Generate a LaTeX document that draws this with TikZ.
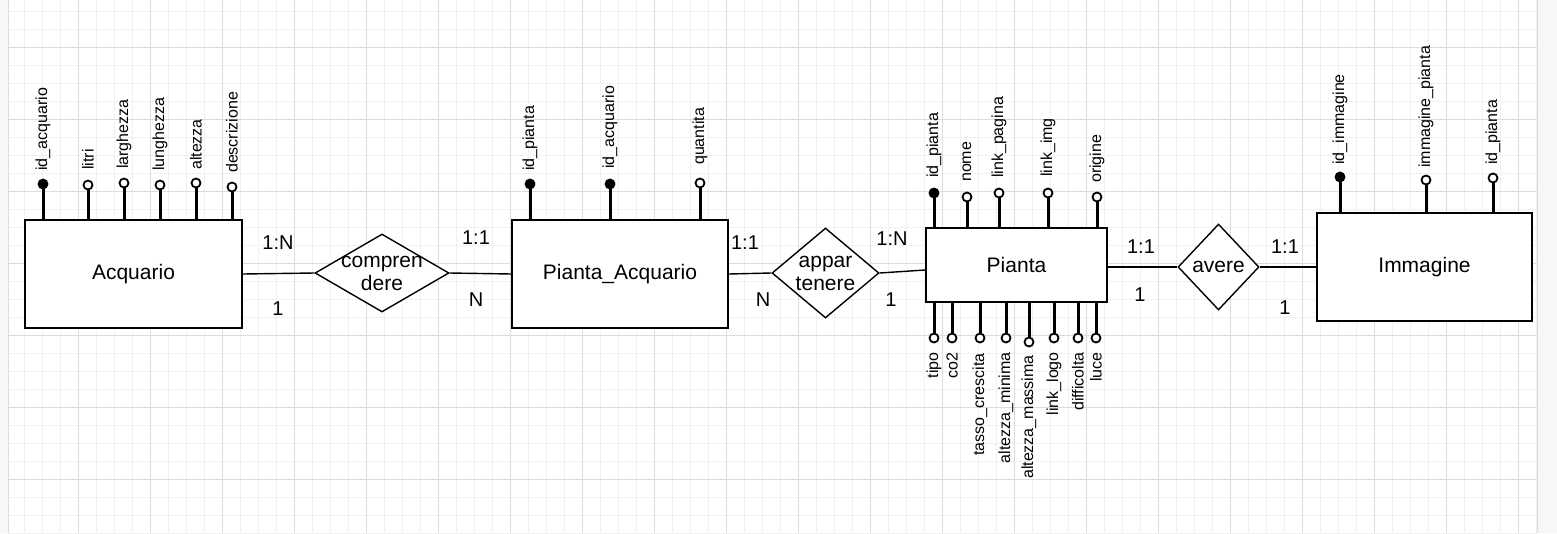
\documentclass[tikz,border=0pt]{standalone}
\usepackage{fontspec}
\setmainfont{Liberation Sans}
\usetikzlibrary{shapes.geometric}
\definecolor{gridmin}{HTML}{F1F1F1}
\definecolor{gridmaj}{HTML}{DCDCDC}
\definecolor{paper}{HTML}{F7F7F7}

\begin{document}
\begin{tikzpicture}[x=1pt, y=-1pt,
  ent/.style={draw, line width=1.6pt, fill=white, inner sep=0pt, font=\fontsize{21}{24}\selectfont},
  rel/.style={diamond, draw, line width=1.4pt, fill=white, inner sep=0pt},
  reltext/.style={align=center, inner sep=0pt, font=\fontsize{21}{23}\selectfont},
  stem/.style={line width=3pt},
  att/.style={circle, draw, line width=1.8pt, minimum size=9pt, inner sep=0pt},
  key/.style={att, fill=black},
  opt/.style={att, fill=white},
  lab/.style={rotate=90, inner sep=0pt, font=\fontsize{16}{19}\selectfont},
  card/.style={inner sep=0pt, font=\fontsize{20}{24}\selectfont},
  link/.style={line width=1.4pt}]
  \useasboundingbox (0,0) rectangle (1557,533);
  % sheet and grid
  \fill[paper] (0,0) rectangle (1557,533);
  \fill[white] (8,0) rectangle (1537,533);
  \foreach \gx in {24,42,...,1536} \draw[gridmin, line width=1pt] (\gx,0) -- (\gx,533);
  \foreach \gy in {11,29,...,533} \draw[gridmin, line width=1pt] (8,\gy) -- (1537,\gy);
  \foreach \gx in {78,150,...,1518} \draw[gridmaj, line width=1pt] (\gx,0) -- (\gx,533);
  \foreach \gy in {47,119,...,479} \draw[gridmaj, line width=1pt] (8,\gy) -- (1537,\gy);
  \draw[gridmaj, line width=1pt] (8,0) -- (8,533) (1537,0) -- (1537,533);

  % entities
  \node[ent, minimum width=217pt, minimum height=108pt] (acq) at (133.5,274) {Acquario};
  \node[ent, minimum width=216pt, minimum height=108pt] (pa) at (620,274) {Pianta\_Acquario};
  \node[ent, minimum width=181pt, minimum height=74pt] (pia) at (1016.5,265) {Pianta};
  \node[ent, minimum width=215pt, minimum height=108pt] (img) at (1424.5,267) {Immagine};

  % relationships
  \node[rel, minimum width=134pt, minimum height=78pt,
    label={[reltext]center:{compren\\dere}}] (cmp) at (382,273) {};
  \node[rel, minimum width=107pt, minimum height=90pt,
    label={[reltext]center:{appar\\tenere}}] (app) at (825.5,273) {};
  \node[rel, minimum width=81pt, minimum height=86pt,
    label={[reltext]center:{avere}}] (hav) at (1218.5,267) {};

  \draw[link] (acq.east) -- (cmp.west);
  \draw[link] (cmp.east) -- (pa.west);
  \draw[link] (pa.east) -- (app.west);
  \draw[link] (app.east) -- ([yshift=-5pt]pia.west);
  \draw[link] (hav.west -| pia.east) -- (hav.west);
  \draw[link] (hav.east) -- (img.west);

  % cardinalities
  \foreach \px/\py/\t [count=\i] in {278/243/1:N, 278/309/1, 476/238/1:1, 476/300/N,
      745/243/1:1, 763/300/N, 892/239/1:N, 891/300/1,
      1141/247/1:1, 1140/295/1, 1285/247/1:1, 1285/308/1}
    \node[card] (c\i) at (\px,\py) {\t};

  % attributes above the boxes
  \foreach \n/\e/\ax/\ay/\ly/\s/\t in {
      a1/acq/43/184/171/key/id\_acquario, a2/acq/88/185/170/opt/litri,
      a3/acq/124/183/169/opt/larghezza, a4/acq/160/185/171/opt/lunghezza,
      a5/acq/196/183/170/opt/altezza, a6/acq/232/187/173/opt/descrizione,
      b1/pa/530/184/171/key/id\_pianta, b2/pa/610/184/169/key/id\_acquario,
      b3/pa/700/183/165/opt/quantita,
      p1/pia/934/193/178/key/id\_pianta, p2/pia/967/197/182/opt/nome,
      p3/pia/999/193/178/opt/link\_pagina, p4/pia/1048/193/177/opt/link\_img,
      p5/pia/1097/197/183/opt/origine,
      m1/img/1340/177/165/key/id\_immagine, m2/img/1426/180/168/opt/immagine\_pianta,
      m3/img/1493/178/165/opt/id\_pianta} {
    \node[\s] (\n) at (\ax,\ay) {};
    \draw[stem] (\n) -- (\n |- \e.north);
    \node[lab, anchor=west] (\n-l) at (\ax,\ly) {\t};
  }

  % attributes below Pianta
  \foreach \n/\ax/\ay/\ly/\t in {
      q1/934/338/352/tipo, q2/952/338/352/co2, q3/980/338/353/tasso\_crescita,
      q4/1006/338/352/altezza\_minima, q5/1029/342/355/altezza\_massima,
      q6/1054/338/352/link\_logo, q7/1078/338/352/difficolta, q8/1096/338/352/luce} {
    \node[opt] (\n) at (\ax,\ay) {};
    \draw[stem] (\n) -- (\n |- pia.south);
    \node[lab, anchor=east] (\n-l) at (\ax,\ly) {\t};
  }
\end{tikzpicture}
\end{document}
